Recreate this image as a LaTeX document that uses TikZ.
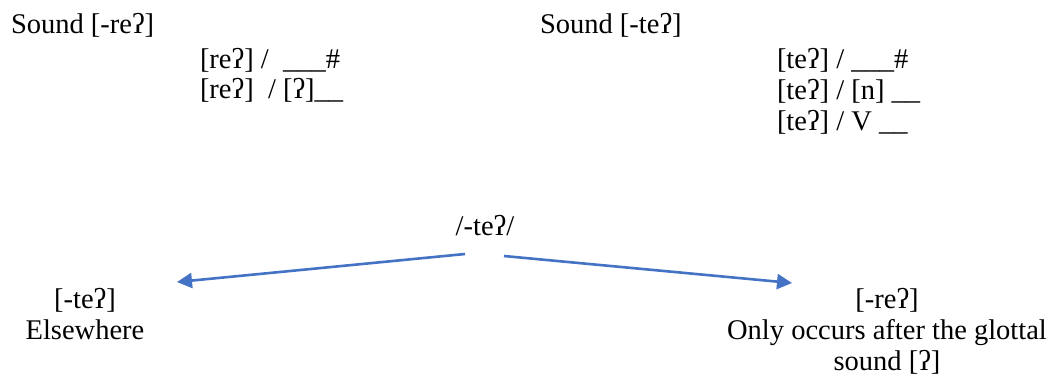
\documentclass[tikz,border=0pt]{standalone}
\usepackage{fontspec}
\setmainfont{Liberation Serif}
\usetikzlibrary{arrows.meta}
\definecolor{arrowblue}{HTML}{4472C4}
\tikzset{
  txt/.style={inner sep=0pt, outer sep=0pt, font=\fontsize{28.5}{31}\selectfont},
  lt/.style={txt, anchor=base west},
  ct/.style={txt, anchor=base, align=center},
  conn/.style={draw=arrowblue, line width=2.6pt, -{Triangle[length=15pt,width=15pt]}}
}
\begin{document}
\begin{tikzpicture}[x=1pt,y=-1pt]
\useasboundingbox (0,0) rectangle (1053,376);
% left block
\node[lt] (sr) at (11,33) {Sound [-reʔ]};
\node[lt] (r1) at (200,68) {[reʔ] /\ \ \_\_\_\#};
\node[lt] (r2) at (200,98) {[reʔ]\ \ / [ʔ]\_\_};
% right block
\node[lt] (st) at (540,33) {Sound [-teʔ]};
\node[lt] (t1) at (777,68) {[teʔ] / \_\_\_\#};
\node[lt] (t2) at (777,99) {[teʔ] / [n] \_\_};
\node[lt] (t3) at (777,130) {[teʔ] / V \_\_};
% tree (base anchor = baseline of last line)
\node[ct] (top) at (485,235) {/-teʔ/};
\node[ct] (lf) at (85,339) {[-teʔ]\\Elsewhere};
\node[ct] (rt) at (887,370) {[-reʔ]\\Only occurs after the glottal\\sound [ʔ]};
\coordinate (ls) at (465,254);
\coordinate (le) at (177,282);
\coordinate (rs) at (504,256);
\coordinate (re) at (792,283);
\draw[conn] (ls) -- (le);
\draw[conn] (rs) -- (re);
\end{tikzpicture}
\end{document}
